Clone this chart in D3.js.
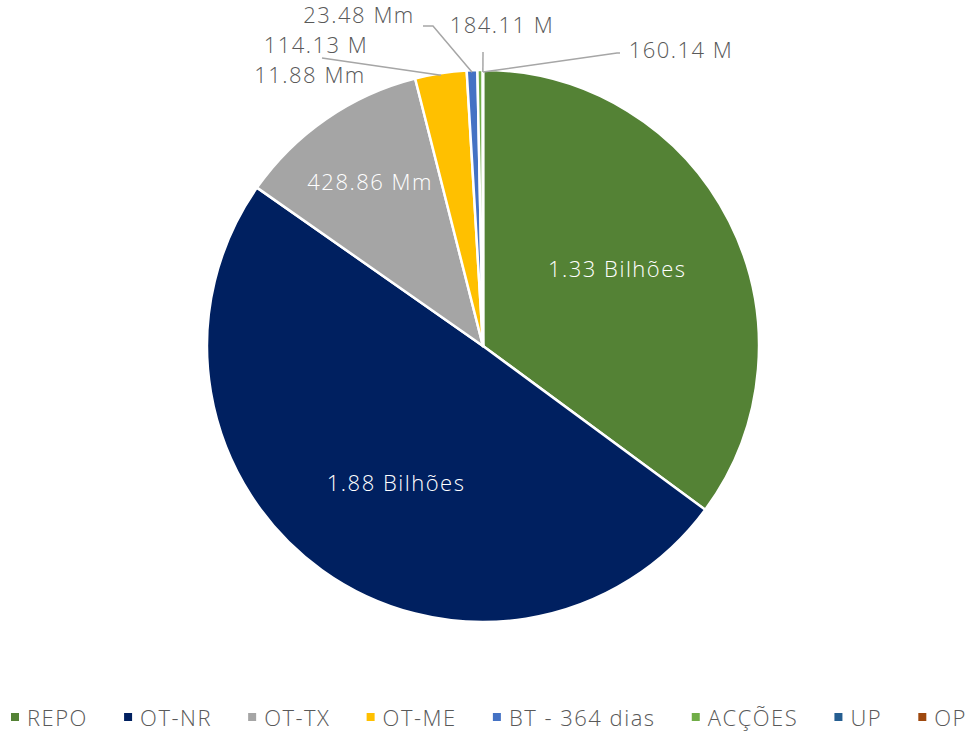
<!DOCTYPE html>
<html>
<head>
<meta charset="utf-8">
<script src="https://cdn.jsdelivr.net/npm/d3@7/dist/d3.min.js"></script>
<style>
  html, body { margin: 0; padding: 0; background: #ffffff; }
  svg { display: block; }
  text { font-family: "Open Sans", "Lato", sans-serif; font-weight: 300; letter-spacing: 1.5px; }
</style>
</head>
<body>
<svg id="chart" width="969" height="733"></svg>
<script>
// Instrumentos: valores em milhões de meticais
const categories = ["REPO", "OT-NR", "OT-TX", "OT-ME", "BT - 364 dias", "ACÇÕES", "UP", "OP"];
const values = [1330, 1880, 428.86, 114.13, 23.48, 11.88, 0.18411, 0.16014];
const valueLabels = ["1.33 Bilhões", "1.88 Bilhões", "428.86 Mm", "114.13 M", "23.48 Mm", "11.88 Mm", "184.11 M", "160.14 M"];
const colors = ["#548235", "#002060", "#A5A5A5", "#FFC000", "#4472C4", "#70AD47", "#255E91", "#9E480E"];

const W = 969, H = 733;
const cx = 483, cy = 346, R = 276;
const FS = 22;

const svg = d3.select("#chart");

const data = categories.map((c, i) => ({ cat: c, value: values[i], label: valueLabels[i], color: colors[i] }));

const pie = d3.pie().sort(null).value(d => d.value);
const arcs = pie(data);
const arc = d3.arc().innerRadius(0).outerRadius(R);

const g = svg.append("g").attr("transform", `translate(${cx},${cy})`);

g.selectAll("path.slice")
  .data(arcs)
  .join("path")
  .attr("class", "slice")
  .attr("d", arc)
  .attr("fill", d => d.data.color)
  .attr("stroke", "#ffffff")
  .attr("stroke-width", 2.5)
  .attr("stroke-linejoin", "round");

// Labels placed inside the large slices: radius fraction and angular nudge (radians)
const inside = { "REPO": [0.56, -0.05], "OT-NR": [0.59, -0.06], "OT-TX": [0.72, 0.0] };

g.selectAll("text.inlabel")
  .data(arcs.filter(d => inside[d.data.cat]))
  .join("text")
  .attr("class", "inlabel")
  .attr("transform", d => {
    const [k, da] = inside[d.data.cat];
    const a = (d.startAngle + d.endAngle) / 2 + da;
    return `translate(${Math.sin(a) * R * k},${-Math.cos(a) * R * k})`;
  })
  .attr("text-anchor", "middle")
  .attr("dy", "0.35em")
  .attr("fill", "#ffffff")
  .attr("font-size", FS)
  .text(d => d.data.label);

// Outside labels for the thin slices, with leader lines (offsets relative to pie centre)
const outside = {
  "OT-ME":         { text: [-167, -301], path: [[-161, -288]] },
  "BT - 364 dias": { text: [-124, -331], path: [[-60, -320], [-50, -320]] },
  "ACÇÕES":        { text: [-173, -271], path: null },
  "UP":            { text: [19, -321], path: [[0, -294]] },
  "OP":            { text: [198, -296], path: [[137, -293], [134, -293]] }
};
const edgeArc = d3.arc().innerRadius(R - 2).outerRadius(R - 2);

arcs.filter(d => outside[d.data.cat]).forEach(d => {
  const o = outside[d.data.cat];
  if (o.path) {
    const end = edgeArc.centroid(d);
    g.append("path")
      .attr("d", d3.line()([...o.path, end]))
      .attr("fill", "none")
      .attr("stroke", "#A6A6A6")
      .attr("stroke-width", 1.5);
  }
  g.append("text")
    .attr("x", o.text[0])
    .attr("y", o.text[1])
    .attr("text-anchor", "middle")
    .attr("dy", "0.35em")
    .attr("fill", "#595959")
    .attr("font-size", FS)
    .text(d.data.label);
});

// Legend along the bottom
const legend = svg.append("g").attr("class", "legend");
const items = legend.selectAll("g.item")
  .data(data)
  .join("g")
  .attr("class", "item");
items.append("rect")
  .attr("width", 8).attr("height", 8)
  .attr("y", 713)
  .attr("fill", d => d.color);
items.append("text")
  .attr("x", 16)
  .attr("y", 726)
  .attr("fill", "#595959")
  .attr("font-size", FS)
  .text(d => d.cat);

const widths = [];
items.each(function () { widths.push(16 + this.querySelector("text").getComputedTextLength()); });
const left = 11, right = 967;
const gap = (right - left - d3.sum(widths)) / (widths.length - 1);
let x = left;
items.each(function (d, i) {
  d3.select(this).attr("transform", `translate(${x},0)`);
  x += widths[i] + gap;
});
</script>
</body>
</html>
